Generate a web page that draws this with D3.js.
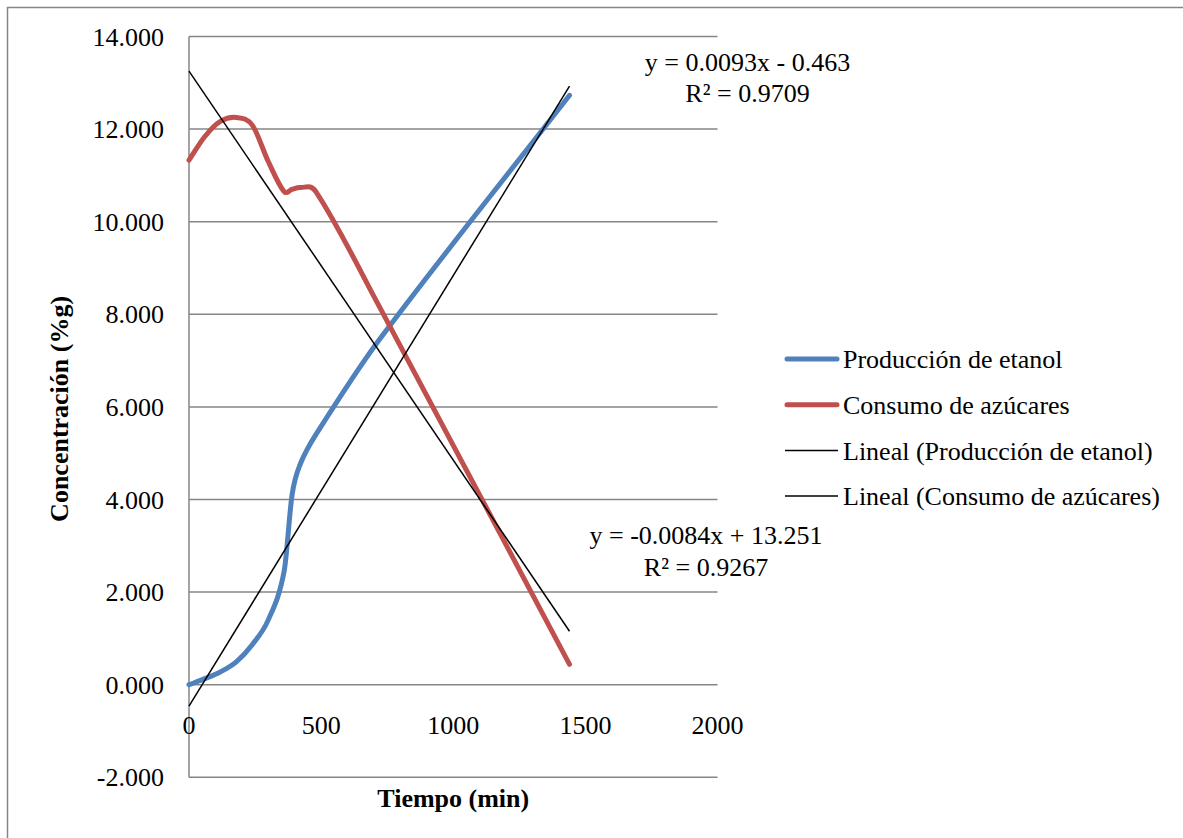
<!DOCTYPE html>
<html>
<head>
<meta charset="utf-8">
<script src="https://cdn.jsdelivr.net/npm/d3@7"></script>
<style>
  body { margin: 0; background: #fff; }
  text { font-family: "Liberation Serif", "Times New Roman", serif; fill: #000; }
</style>
</head>
<body>
<div id="chart"></div>
<script>
// data (time in min, concentration in %g)
const times = [0, 60, 120, 180, 240, 300, 360, 390, 420, 480, 720, 1440];
const ethanol = [0.0, 0.13, 0.28, 0.5, 0.87, 1.4, 2.45, 4.1, 4.75, 5.4, 7.45, 12.73];
const sugar = [11.33, 11.84, 12.17, 12.25, 12.08, 11.3, 10.65, 10.7, 10.74, 10.65, 8.17, 0.44];

const seriesNames = ["Producción de etanol", "Consumo de azúcares"];
const seriesColors = ["#4F81BD", "#C0504D"];
const trendNames = ["Lineal (Producción de etanol)", "Lineal (Consumo de azúcares)"];
const trendSlope = [0.0093, -0.0084];
const trendIntercept = [-0.463, 13.251];
const trendEq = [["y = 0.0093x - 0.463", "R² = 0.9709"], ["y = -0.0084x + 13.251", "R² = 0.9267"]];

const xTicks = [0, 500, 1000, 1500, 2000];
const yTicks = [-2, 0, 2, 4, 6, 8, 10, 12, 14];

const width = 1183, height = 838;
const plot = { left: 189, right: 717.5, top: 36.5, bottom: 777.3 };
const fontSize = 26;

// smooth line like the spreadsheet one: cubic Hermite with central-difference tangents
function curveSmooth(context) {
  let pts;
  return {
    areaStart() {}, areaEnd() {},
    lineStart() { pts = []; },
    point(px, py) { pts.push([+px, +py]); },
    lineEnd() {
      const n = pts.length;
      if (!n) return;
      context.moveTo(pts[0][0], pts[0][1]);
      const slope = i => {
        const a = pts[Math.max(i - 1, 0)], b = pts[Math.min(i + 1, n - 1)];
        return (b[1] - a[1]) / (b[0] - a[0]);
      };
      for (let i = 0; i < n - 1; i++) {
        const p = pts[i], q = pts[i + 1], h = (q[0] - p[0]) / 3;
        context.bezierCurveTo(p[0] + h, p[1] + slope(i) * h,
                              q[0] - h, q[1] - slope(i + 1) * h,
                              q[0], q[1]);
      }
    }
  };
}

const svg = d3.select("#chart").append("svg")
    .attr("width", width)
    .attr("height", height);

// outer chart frame
svg.append("rect")
    .attr("x", 7.5).attr("y", 7.5)
    .attr("width", width + 20).attr("height", height + 20)
    .attr("fill", "none")
    .attr("stroke", "#868686")
    .attr("stroke-width", 1.5);

const x = d3.scaleLinear().domain([0, 2000]).range([plot.left, plot.right]);
const y = d3.scaleLinear().domain([-2, 14]).range([plot.bottom, plot.top]);

// horizontal gridlines
svg.append("g")
    .attr("stroke", "#868686")
    .attr("stroke-width", 1.5)
  .selectAll("line")
  .data(yTicks)
  .join("line")
    .attr("x1", plot.left).attr("x2", plot.right)
    .attr("y1", d => y(d)).attr("y2", d => y(d));

// vertical axis line
svg.append("line")
    .attr("x1", plot.left).attr("x2", plot.left)
    .attr("y1", plot.top).attr("y2", plot.bottom)
    .attr("stroke", "#868686")
    .attr("stroke-width", 1.5);

// y tick labels
svg.append("g")
  .selectAll("text")
  .data(yTicks)
  .join("text")
    .attr("x", 164)
    .attr("y", d => y(d))
    .attr("dy", "0.35em")
    .attr("text-anchor", "end")
    .attr("font-size", fontSize)
    .text(d => d.toFixed(3));

// x tick labels (axis crosses at 0)
svg.append("g")
  .selectAll("text")
  .data(xTicks)
  .join("text")
    .attr("x", d => x(d))
    .attr("y", y(0) + 40)
    .attr("dy", "0.35em")
    .attr("text-anchor", "middle")
    .attr("font-size", fontSize)
    .text(d => d);

// axis titles
svg.append("text")
    .attr("transform", `translate(58.5,${(plot.top + plot.bottom) / 2 + 2}) rotate(-90)`)
    .attr("dy", "0.35em")
    .attr("text-anchor", "middle")
    .attr("font-size", fontSize)
    .attr("font-weight", "bold")
    .text("Concentración (%g)");

svg.append("text")
    .attr("x", (plot.left + plot.right) / 2)
    .attr("y", 798)
    .attr("dy", "0.35em")
    .attr("text-anchor", "middle")
    .attr("font-size", fontSize)
    .attr("font-weight", "bold")
    .text("Tiempo (min)");

// series
const line = d3.line()
    .x(d => x(d[0]))
    .y(d => y(d[1]))
    .curve(curveSmooth);

[ethanol, sugar].forEach((vals, i) => {
  svg.append("path")
      .datum(times.map((t, j) => [t, vals[j]]))
      .attr("fill", "none")
      .attr("stroke", seriesColors[i])
      .attr("stroke-width", 5)
      .attr("stroke-linecap", "round")
      .attr("stroke-linejoin", "round")
      .attr("d", line);
});

// linear trendlines
const xr = d3.extent(times);
trendSlope.forEach((m, i) => {
  const b = trendIntercept[i];
  svg.append("line")
      .attr("x1", x(xr[0])).attr("y1", y(m * xr[0] + b))
      .attr("x2", x(xr[1])).attr("y2", y(m * xr[1] + b))
      .attr("stroke", "#000")
      .attr("stroke-width", 1.5);
});

// trendline equations
const eqPos = [[747.5, 61.7], [706, 535]];
trendEq.forEach((lines, i) => {
  lines.forEach((t, k) => {
    svg.append("text")
        .attr("x", eqPos[i][0])
        .attr("y", eqPos[i][1] + k * 31.5)
        .attr("dy", "0.35em")
        .attr("text-anchor", "middle")
        .attr("font-size", fontSize)
        .text(t);
  });
});

// legend
const legendItems = [
  { name: seriesNames[0], color: seriesColors[0], w: 5 },
  { name: seriesNames[1], color: seriesColors[1], w: 5 },
  { name: trendNames[0], color: "#000", w: 1.5 },
  { name: trendNames[1], color: "#000", w: 1.5 }
];
const legend = svg.append("g").attr("transform", "translate(785,359)");
const item = legend.selectAll("g")
  .data(legendItems)
  .join("g")
    .attr("transform", (d, i) => `translate(0,${i * 45.7})`);
item.append("line")
    .attr("x1", d => d.w > 2 ? 2 : 0).attr("x2", d => d.w > 2 ? 52 : 53)
    .attr("stroke", d => d.color)
    .attr("stroke-width", d => d.w)
    .attr("stroke-linecap", d => d.w > 2 ? "round" : "butt");
item.append("text")
    .attr("x", 58)
    .attr("dy", "0.35em")
    .attr("font-size", fontSize)
    .text(d => d.name);
</script>
</body>
</html>
